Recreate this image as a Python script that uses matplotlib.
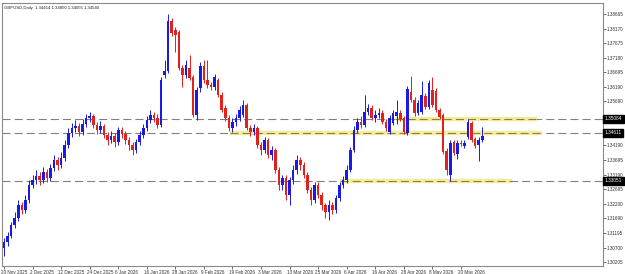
import matplotlib
matplotlib.use("Agg")
import numpy as np
from matplotlib import pyplot as plt
from matplotlib import transforms

# GBPUSD daily candles
opens = [1.3069, 1.3089, 1.3110, 1.3147, 1.3171, 1.3215, 1.3198, 1.3232, 1.3283, 1.3300,
         1.3314, 1.3300, 1.3328, 1.3307, 1.3341, 1.3369, 1.3352, 1.3375, 1.3420, 1.3461,
         1.3478, 1.3484, 1.3464, 1.3491, 1.3512, 1.3519, 1.3488, 1.3471, 1.3484, 1.3454,
         1.3437, 1.3450, 1.3430, 1.3471, 1.3457, 1.3437, 1.3420, 1.3403, 1.3430, 1.3454,
         1.3478, 1.3505, 1.3522, 1.3512, 1.3488, 1.3658, 1.3672, 1.3843, 1.3812, 1.3805,
         1.3682, 1.3658, 1.3682, 1.3652, 1.3522, 1.3614, 1.3689, 1.3641, 1.3624, 1.3618,
         1.3641, 1.3590, 1.3546, 1.3512, 1.3478, 1.3498, 1.3512, 1.3522, 1.3556, 1.3478,
         1.3464, 1.3478, 1.3420, 1.3403, 1.3437, 1.3386, 1.3403, 1.3334, 1.3283, 1.3307,
         1.3249, 1.3300, 1.3334, 1.3369, 1.3352, 1.3317, 1.3266, 1.3232, 1.3283, 1.3249,
         1.3215, 1.3191, 1.3215, 1.3198, 1.3239, 1.3283, 1.3300, 1.3334, 1.3403, 1.3471,
         1.3498, 1.3488, 1.3532, 1.3546, 1.3512, 1.3522, 1.3529, 1.3498, 1.3464, 1.3495,
         1.3519, 1.3529, 1.3512, 1.3461, 1.3600, 1.3573, 1.3529, 1.3532, 1.3587, 1.3549,
         1.3607, 1.3604, 1.3539, 1.3522, 1.3399, 1.3317, 1.3430, 1.3389, 1.3426, 1.3416,
         1.3447, 1.3495, 1.3440, 1.3420, 1.3437]
highs = [1.3103, 1.3123, 1.3157, 1.3191, 1.3232, 1.3225, 1.3249, 1.3300, 1.3317, 1.3334,
         1.3328, 1.3345, 1.3338, 1.3355, 1.3386, 1.3379, 1.3396, 1.3437, 1.3478, 1.3495,
         1.3505, 1.3495, 1.3508, 1.3525, 1.3532, 1.3525, 1.3498, 1.3502, 1.3491, 1.3464,
         1.3467, 1.3461, 1.3481, 1.3481, 1.3467, 1.3447, 1.3430, 1.3440, 1.3467, 1.3491,
         1.3519, 1.3539, 1.3532, 1.3525, 1.3652, 1.3710, 1.3866, 1.3853, 1.3822, 1.3812,
         1.3693, 1.3710, 1.3727, 1.3658, 1.3618, 1.3703, 1.3710, 1.3710, 1.3635, 1.3662,
         1.3648, 1.3600, 1.3556, 1.3522, 1.3512, 1.3525, 1.3553, 1.3573, 1.3563, 1.3488,
         1.3491, 1.3484, 1.3430, 1.3447, 1.3444, 1.3416, 1.3410, 1.3345, 1.3317, 1.3317,
         1.3311, 1.3352, 1.3386, 1.3379, 1.3362, 1.3328, 1.3276, 1.3293, 1.3293, 1.3259,
         1.3222, 1.3232, 1.3225, 1.3249, 1.3293, 1.3314, 1.3352, 1.3413, 1.3484, 1.3512,
         1.3519, 1.3590, 1.3560, 1.3556, 1.3539, 1.3546, 1.3539, 1.3508, 1.3522, 1.3539,
         1.3573, 1.3539, 1.3519, 1.3621, 1.3655, 1.3583, 1.3573, 1.3638, 1.3597, 1.3641,
         1.3652, 1.3614, 1.3546, 1.3529, 1.3410, 1.3437, 1.3437, 1.3437, 1.3437, 1.3437,
         1.3508, 1.3502, 1.3447, 1.3447, 1.3481]
lows = [1.3041, 1.3075, 1.3103, 1.3137, 1.3161, 1.3184, 1.3188, 1.3222, 1.3273, 1.3287,
        1.3283, 1.3290, 1.3293, 1.3297, 1.3331, 1.3334, 1.3341, 1.3365, 1.3410, 1.3447,
        1.3464, 1.3450, 1.3454, 1.3481, 1.3498, 1.3478, 1.3457, 1.3461, 1.3444, 1.3420,
        1.3426, 1.3413, 1.3420, 1.3444, 1.3423, 1.3403, 1.3386, 1.3392, 1.3420, 1.3444,
        1.3467, 1.3495, 1.3498, 1.3478, 1.3481, 1.3648, 1.3665, 1.3791, 1.3737, 1.3676,
        1.3618, 1.3648, 1.3641, 1.3515, 1.3505, 1.3600, 1.3631, 1.3614, 1.3607, 1.3607,
        1.3583, 1.3532, 1.3502, 1.3467, 1.3464, 1.3484, 1.3502, 1.3515, 1.3471, 1.3450,
        1.3454, 1.3410, 1.3386, 1.3392, 1.3375, 1.3369, 1.3324, 1.3266, 1.3266, 1.3232,
        1.3215, 1.3287, 1.3321, 1.3334, 1.3307, 1.3256, 1.3215, 1.3222, 1.3239, 1.3198,
        1.3171, 1.3164, 1.3184, 1.3188, 1.3229, 1.3273, 1.3290, 1.3328, 1.3396, 1.3461,
        1.3478, 1.3481, 1.3522, 1.3505, 1.3498, 1.3512, 1.3491, 1.3467, 1.3457, 1.3488,
        1.3491, 1.3502, 1.3457, 1.3454, 1.3566, 1.3519, 1.3522, 1.3525, 1.3543, 1.3543,
        1.3549, 1.3532, 1.3508, 1.3389, 1.3317, 1.3297, 1.3386, 1.3372, 1.3416, 1.3410,
        1.3440, 1.3430, 1.3410, 1.3365, 1.3430]
closes = [1.3089, 1.3110, 1.3147, 1.3171, 1.3215, 1.3198, 1.3232, 1.3283, 1.3300, 1.3314,
          1.3300, 1.3328, 1.3307, 1.3341, 1.3369, 1.3352, 1.3375, 1.3420, 1.3461, 1.3478,
          1.3484, 1.3464, 1.3491, 1.3512, 1.3519, 1.3488, 1.3471, 1.3484, 1.3454, 1.3437,
          1.3450, 1.3430, 1.3471, 1.3457, 1.3437, 1.3420, 1.3403, 1.3430, 1.3454, 1.3478,
          1.3505, 1.3522, 1.3512, 1.3488, 1.3641, 1.3672, 1.3843, 1.3802, 1.3795, 1.3682,
          1.3658, 1.3693, 1.3648, 1.3522, 1.3607, 1.3689, 1.3641, 1.3624, 1.3618, 1.3652,
          1.3590, 1.3539, 1.3512, 1.3478, 1.3498, 1.3512, 1.3539, 1.3556, 1.3478, 1.3464,
          1.3478, 1.3420, 1.3403, 1.3437, 1.3386, 1.3403, 1.3334, 1.3283, 1.3307, 1.3249,
          1.3300, 1.3334, 1.3369, 1.3352, 1.3317, 1.3266, 1.3232, 1.3283, 1.3249, 1.3215,
          1.3191, 1.3215, 1.3198, 1.3239, 1.3283, 1.3300, 1.3334, 1.3403, 1.3471, 1.3498,
          1.3488, 1.3532, 1.3546, 1.3512, 1.3522, 1.3529, 1.3498, 1.3478, 1.3512, 1.3529,
          1.3532, 1.3508, 1.3464, 1.3611, 1.3573, 1.3529, 1.3563, 1.3590, 1.3549, 1.3631,
          1.3556, 1.3539, 1.3515, 1.3396, 1.3334, 1.3426, 1.3392, 1.3426, 1.3424, 1.3426,
          1.3498, 1.3437, 1.3416, 1.3437, 1.3450]

date_labels = ['20 Nov 2025', '2 Dec 2025', '12 Dec 2025', '24 Dec 2025', '6 Jan 2026',
               '16 Jan 2026', '28 Jan 2026', '9 Feb 2026', '19 Feb 2026', '3 Mar 2026',
               '13 Mar 2026', '25 Mar 2026', '6 Apr 2026', '16 Apr 2026', '28 Apr 2026',
               '8 May 2026', '20 May 2026']
price_ticks = [1.30205, 1.30700, 1.31195, 1.31690, 1.32200, 1.32695, 1.33190, 1.33695,
               1.34190, 1.35690, 1.36190, 1.36695, 1.37180, 1.37675, 1.38170, 1.38665]

# horizontal levels: value, label, yellow zone start/end (bar index)
levels = [1.35084, 1.34606, 1.32969]
level_labels = ['1.35084', '1.34611', '1.33051']
zone_start = [109.5, 63.3, 94.1]
zone_end = [149.3, 150.7, 142.3]

header = 'GBPUSD,Daily  1.34414 1.34850 1.34055 1.34540'

plt.rcParams['lines.scale_dashes'] = False
plt.rcParams['font.family'] = ['Liberation Sans', 'DejaVu Sans']
fig = plt.figure(figsize=(6.25, 2.74), dpi=100)
ax = fig.add_axes([2 / 625, 8 / 274, 601 / 625, 263 / 274])

n = len(closes)
x = np.arange(n)
o = np.array(opens)
c = np.array(closes)
up = c >= o
col = np.where(up, '#1a1ae6', '#e3201c')

ax.vlines(x, lows, highs, colors=col, linewidth=0.7, zorder=3)
body_low = np.minimum(o, c)
body_h = np.maximum(np.abs(c - o), 0.00012)
ax.bar(x, body_h, bottom=body_low, width=0.72, color=col, linewidth=0, zorder=4)

for lv, s, e in zip(levels, zone_start, zone_end):
    ax.axhline(lv, color='#808080', linewidth=0.8, dashes=(5.8, 2.9), zorder=1)
    ax.plot([s, e], [lv, lv], color='#f3ec9c', linewidth=3.2, solid_capstyle='butt', zorder=2)
    ax.plot([s, e], [lv, lv], color='#8c8040', linewidth=0.8, dashes=(5.8, 2.9), zorder=2)

ax.set_xlim(-0.56, 167.8)
ax.set_ylim(1.30069, 1.39040)

ax.yaxis.tick_right()
ax.set_yticks(price_ticks)
ax.set_yticklabels(['%.5f' % v for v in price_ticks])
ax.tick_params(axis='y', length=2, width=0.5, pad=1, labelsize=3.3, colors='#303030')

tick_pos = np.arange(0, 8 * len(date_labels), 8)
ax.set_xticks(tick_pos)
ax.set_xticklabels(date_labels)
ax.tick_params(axis='x', length=2, width=0.5, pad=1, labelsize=3.3, colors='#303030')
shift = transforms.ScaledTranslation(-3 / 100, 0, fig.dpi_scale_trans)
for lab in ax.get_xticklabels():
    lab.set_horizontalalignment('left')
    lab.set_transform(lab.get_transform() + shift)

trans = transforms.blended_transform_factory(ax.transAxes, ax.transData)
for lv, txt in zip(levels, level_labels):
    ax.text(1.003, lv, txt, transform=trans, fontsize=3.4, color='white', va='center', ha='left',
            bbox=dict(boxstyle='square,pad=0.3', facecolor='black', edgecolor='black'), zorder=6)

ax.text(0.004, 0.988, header, transform=ax.transAxes, fontsize=3.1, va='top', ha='left', color='#202020')

for sp in ax.spines.values():
    sp.set_color('#8a8a8a')
    sp.set_linewidth(0.8)

fig.savefig('out.png', dpi=100, facecolor='white')
